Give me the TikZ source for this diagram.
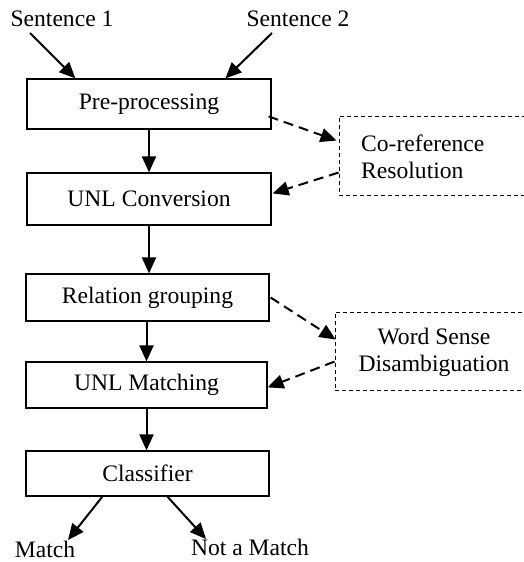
\documentclass[tikz,border=0pt]{standalone}
\usepackage{fontspec}
\setmainfont{Liberation Serif}
\usetikzlibrary{arrows.meta,calc}
\begin{document}
\begin{tikzpicture}[x=1pt,y=-1pt,
  txt/.style={font=\fontsize{23.6}{27}\selectfont},
  box/.style={txt,draw,line width=1.2pt,inner sep=0pt},
  dbox/.style={draw,line width=0.9pt,dash pattern=on 4pt off 3pt,inner sep=0pt},
  flow/.style={line width=2pt,-{Triangle[length=16pt,width=14pt]}},
  dflow/.style={line width=2pt,dash pattern=on 10pt off 6pt,-{Triangle[length=16pt,width=14pt]}},
  lbl/.style={txt,inner sep=0pt,anchor=base}]
\useasboundingbox (0,0) rectangle (524,562);
\clip (0,0) rectangle (524,562);
% main boxes
\node[box,minimum width=244pt,minimum height=50pt] (pre) at (149,104) {Pre-processing};
\node[box,minimum width=244pt,minimum height=52pt] (conv) at (149,199) {UNL Conversion};
\node[box,minimum width=243pt,minimum height=47pt] (rel) at (147.5,297.5) {Relation grouping};
\node[box,minimum width=241pt,minimum height=46pt] (match) at (146.5,385) {UNL Matching};
\node[box,minimum width=243pt,minimum height=45pt] (cls) at (147.5,473.5) {Classifier};
% dashed side boxes
\node[dbox,minimum width=201pt,minimum height=79pt] (coref) at (439.5,155.5) {};
\node[txt,inner sep=0pt,align=left,anchor=west] (coreftxt) at (361,157) {Co-reference\\Resolution};
\node[dbox,minimum width=205pt,minimum height=78pt] (wsd) at (437.5,351) {};
\node[txt,inner sep=0pt,align=center] (wsdtxt) at (434,352) {Word Sense\\Disambiguation};
% labels
\node[lbl] (s1) at (62,27) {Sentence 1};
\node[lbl] (s2) at (298,27) {Sentence 2};
\node[lbl] (m) at (45,557) {Match};
\node[lbl] (nm) at (250,555) {Not a Match};
% connector end points
\coordinate (s1a) at (30,33);
\coordinate (s2a) at (272,33);
\coordinate (ma) at (68,540);
\coordinate (nma) at (206,539);
% solid arrows
\draw[flow] (s1a) -- ($(pre.north west)+(49,0)$);
\draw[flow] (s2a) -- ($(pre.north west)+(199,0)$);
\draw[flow] (pre.south) -- (conv.north);
\draw[flow] (conv.south) -- ++(0,20) coordinate (c1) -- (c1 |- rel.north);
\draw[flow] (rel.south -| match.north) -- (match.north);
\draw[flow] (match.south) -- (match.south |- cls.north);
\draw[flow] ($(cls.south west)+(77,0)$) -- (ma);
\draw[flow] ($(cls.south west)+(142,0)$) -- (nma);
% dashed arrows
\draw[dflow] ($(pre.north east)+(-3,38)$) -- ($(coref.north west)+(-2,25)$);
\draw[dflow] ($(coref.north west)+(0,57)$) -- ($(conv.north east)+(1,21)$);
\draw[dflow] ($(rel.east)+(1,0)$) -- ($(wsd.north west)+(1,28)$);
\draw[dflow] ($(wsd.north west)+(0,50)$) -- ($(match.north east)+(0,26)$);
\end{tikzpicture}
\end{document}
